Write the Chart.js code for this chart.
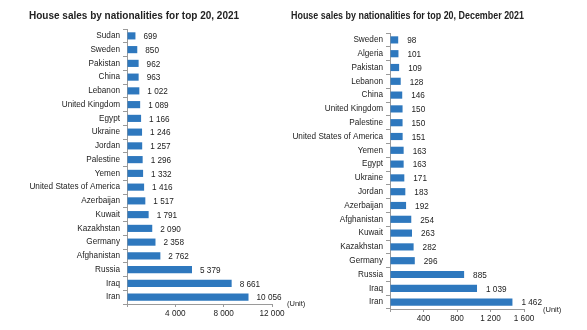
<!DOCTYPE html>
<html>
<head>
<meta charset="utf-8">
<script src="https://cdn.jsdelivr.net/npm/chart.js@4"></script>
<style>
  body { margin: 0; background: #fff; }
  #wrap { position: relative; width: 587px; height: 330px; overflow: hidden; background: #fff; }
  canvas { position: absolute; top: 0; }
  #c1 { left: 0; }
  #c2 { left: 290px; }
</style>
</head>
<body>
<div id="wrap">
  <canvas id="c1" width="310" height="330"></canvas>
  <canvas id="c2" width="297" height="330"></canvas>
</div>
<script>
// 2021 yearly
var labelsYear = ["Sudan", "Sweden", "Pakistan", "China", "Lebanon", "United Kingdom", "Egypt", "Ukraine",
  "Jordan", "Palestine", "Yemen", "United States of America", "Azerbaijan", "Kuwait", "Kazakhstan",
  "Germany", "Afghanistan", "Russia", "Iraq", "Iran"];
var valuesYear = [699, 850, 962, 963, 1022, 1089, 1166, 1246, 1257, 1296, 1332, 1416, 1517, 1791, 2090,
  2358, 2762, 5379, 8661, 10056];
var ticksYear = [0, 4000, 8000, 12000];

// December 2021
var labelsDec = ["Sweden", "Algeria", "Pakistan", "Lebanon", "China", "United Kingdom", "Palestine",
  "United States of America", "Yemen", "Egypt", "Ukraine", "Jordan", "Azerbaijan", "Afghanistan",
  "Kuwait", "Kazakhstan", "Germany", "Russia", "Iraq", "Iran"];
var valuesDec = [98, 101, 109, 128, 146, 150, 150, 151, 163, 163, 171, 183, 192, 254, 263, 282, 296,
  885, 1039, 1462];
var ticksDec = [0, 400, 800, 1200, 1600];

var FONT = '"Liberation Sans", Arial, sans-serif';
var BAR = "#2E78BE";
var AXIS = "#9a9a9a";
var TEXT = "#222";

function fmt(v) {
  return String(v).replace(/\B(?=(\d{3})+(?!\d))/g, " ");
}

// value labels next to the bars + the "(Unit)" note
var barLabels = {
  id: "barLabels",
  afterDatasetsDraw: function (chart, args, opts) {
    var ctx = chart.ctx;
    var meta = chart.getDatasetMeta(0);
    var vals = chart.data.datasets[0].data;
    ctx.save();
    ctx.fillStyle = TEXT;
    ctx.font = "8.2px " + FONT;
    ctx.textAlign = "left";
    ctx.textBaseline = "middle";
    for (var i = 0; i < meta.data.length; i++) {
      var bar = meta.data[i];
      ctx.fillText(fmt(vals[i]), bar.x + opts.offset, bar.y + 1);
    }
    ctx.font = "7.5px " + FONT;
    ctx.fillText("(Unit)", chart.chartArea.right + opts.unitX, chart.chartArea.bottom + opts.unitY);
    ctx.restore();
  }
};

function makeChart(id, title, labels, values, ticks, c) {
  return new Chart(document.getElementById(id), {
    type: "bar",
    data: {
      labels: labels,
      datasets: [{
        data: values,
        backgroundColor: BAR,
        borderWidth: 0,
        barPercentage: 0.52,
        categoryPercentage: 1
      }]
    },
    plugins: [barLabels],
    options: {
      indexAxis: "y",
      responsive: false,
      animation: false,
      devicePixelRatio: 1,
      layout: { padding: { left: c.padLeft, right: c.padRight, top: 0, bottom: 0 } },
      plugins: {
        legend: { display: false },
        tooltip: { enabled: false },
        title: {
          display: true,
          text: title,
          align: "start",
          color: TEXT,
          font: { family: FONT, size: 10, weight: "bold" },
          padding: { top: 10, bottom: c.titleBottom }
        },
        barLabels: { offset: c.offset, unitX: c.unitX, unitY: c.unitY }
      },
      scales: {
        x: {
          min: 0,
          max: ticks[ticks.length - 1],
          afterBuildTicks: function (axis) {
            axis.ticks = ticks.map(function (v) { return { value: v }; });
          },
          afterFit: function (axis) { axis.height = c.xHeight; },
          border: { color: AXIS, width: 1 },
          grid: { drawOnChartArea: false, color: AXIS, tickLength: 3 },
          ticks: {
            color: TEXT,
            font: { family: FONT, size: 8.2 },
            padding: 2,
            maxRotation: 0,
            callback: function (v) { return v === 0 ? "" : fmt(v); }
          }
        },
        y: {
          afterFit: function (axis) { axis.width = c.yWidth; },
          border: { color: AXIS, width: 1 },
          grid: { drawOnChartArea: false, color: AXIS, tickLength: 4 },
          ticks: {
            color: TEXT,
            font: { family: FONT, size: 8.2 },
            padding: 3,
            autoSkip: false
          }
        }
      }
    }
  });
}

makeChart("c1", "House sales by nationalities for top 20, 2021", labelsYear, valuesYear, ticksYear,
  { padLeft: 29, padRight: 38, titleBottom: 7, xHeight: 26, yWidth: 98, offset: 8, unitX: 15, unitY: 0 });

makeChart("c2", "House sales by nationalities for top 20, December 2021", labelsDec, valuesDec, ticksDec,
  { padLeft: 1, padRight: 63, titleBottom: 11, xHeight: 21, yWidth: 99, offset: 9, unitX: 19, unitY: 1 });
</script>
</body>
</html>
